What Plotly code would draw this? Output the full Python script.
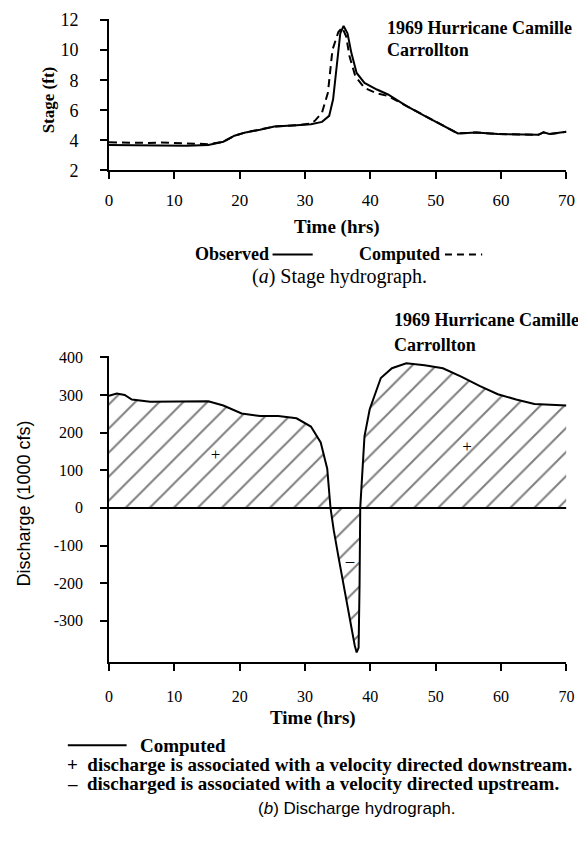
import plotly.graph_objects as go

# (a) stage hydrograph, ft
obs_t = [0, 6.3, 11.9, 15.2, 17.5, 19.2, 20.9, 23.1, 25.3, 28.7, 30.9, 32.6, 33.7, 34.3, 34.9,
         35.4, 35.9, 36.5, 37.1, 37.9, 39.1, 41.0, 42.7, 45.5, 48.3, 51.1, 53.4, 56.2, 59.5,
         65.7, 66.5, 67.4, 70]
obs_stage = [3.69, 3.65, 3.65, 3.69, 3.91, 4.31, 4.53, 4.70, 4.92, 5.01, 5.08, 5.23, 5.63, 6.73,
             9.36, 11.12, 11.6, 11.12, 9.8, 8.48, 7.82, 7.38, 7.05, 6.29, 5.63, 4.97, 4.46, 4.53,
             4.42, 4.37, 4.53, 4.42, 4.57]

comp_t = [0, 2, 4, 6, 8, 10, 12, 15.2, 17.5, 19.2, 20.9, 23.1, 25.3, 28.7, 30.9, 31.5, 32.6,
          33.5, 34.2, 35.1, 35.7, 36.3, 36.8, 37.7, 39.1, 41.0, 42.7, 45.5, 48.3, 51.1, 53.4,
          56.2, 59.5, 65.7, 66.5, 67.4, 70]
comp_stage = [3.87, 3.85, 3.87, 3.83, 3.86, 3.82, 3.80, 3.75, 3.91, 4.31, 4.53, 4.70, 4.92, 5.01,
              5.12, 5.3, 5.85, 7.16, 10.02, 11.2, 11.5, 10.9, 9.6, 8.26, 7.49, 7.12, 6.95, 6.29,
              5.63, 4.97, 4.46, 4.53, 4.42, 4.37, 4.53, 4.42, 4.57]

# (b) discharge hydrograph, 1000 cfs
q_t = [0, 1.2, 2.4, 3.5, 6.3, 11.9, 15.2, 17.5, 20.3, 23.1, 25.9, 28.7, 30.9, 32.4, 33.4,
       33.9, 34.4, 35.2, 36.0, 36.9, 37.6, 37.9, 38.2, 38.35, 38.45, 39.1, 39.9, 41.6, 43.3,
       45.5, 48.3, 51.1, 53.9, 56.7, 59.5, 62.3, 65.1, 70]
q_val = [298, 304, 300, 288, 282, 282, 283, 272, 251, 244, 244, 238, 216, 174, 104,
         0, -60, -138, -215, -300, -365, -384, -372, -200, 0, 190, 262, 345, 371,
         384, 379, 371, 349, 324, 302, 288, 276, 272]

x_ticks = [0, 10, 20, 30, 40, 50, 60, 70]
stage_ticks = [2, 4, 6, 8, 10, 12]
q_ticks = [400, 300, 200, 100, 0, -100, -200, -300]
q_tick_text = ['400', '300', '200', '100', '0', '-100', '-200', '-300']

W, H = 586, 846
PAGE_PAD = 8  # the page body margin shifts the figure by this much
SERIF = 'Liberation Serif'
SANS = 'Liberation Sans'


# positions below are measured on the page, converted to paper fractions here
def px(x):
    return (x - PAGE_PAD) / W


def py(y):
    return 1 - (y - PAGE_PAD) / H


fig = go.Figure()

fig.add_trace(go.Scatter(x=obs_t, y=obs_stage, mode='lines', line=dict(color='black', width=2),
                         xaxis='x', yaxis='y', showlegend=False))
fig.add_trace(go.Scatter(x=comp_t, y=comp_stage, mode='lines',
                         line=dict(color='black', width=2, dash='8px,5px'),
                         xaxis='x', yaxis='y', showlegend=False))

fig.add_trace(go.Scatter(x=q_t, y=q_val, mode='lines', line=dict(color='black', width=2),
                         fill='tozeroy',
                         fillpattern=dict(shape='/', fgcolor='black', bgcolor='white',
                                          size=17, solidity=0.12),
                         xaxis='x2', yaxis='y2', showlegend=False))
# zero line
fig.add_trace(go.Scatter(x=[0, 70], y=[0, 0], mode='lines', line=dict(color='black', width=2),
                         xaxis='x2', yaxis='y2', showlegend=False))

# sign markers
fig.add_trace(go.Scatter(x=[16.3, 54.8], y=[138, 161], mode='text', text=['+', '+'],
                         textfont=dict(family=SERIF, size=17, color='black'),
                         xaxis='x2', yaxis='y2', showlegend=False))
fig.add_trace(go.Scatter(x=[36.9], y=[-143], mode='text', text=['–'],
                         textfont=dict(family=SERIF, size=17, color='black'),
                         xaxis='x2', yaxis='y2', showlegend=False))

axis_common = dict(showgrid=False, zeroline=False, showline=True, linecolor='black',
                   linewidth=1.5, ticks='outside', ticklen=7, tickwidth=1.5, tickcolor='black')

fig.update_layout(
    width=W, height=H,
    margin=dict(l=0, r=0, t=0, b=0),
    paper_bgcolor='white', plot_bgcolor='white',
    xaxis=dict(domain=[px(107), px(574)], range=[0, 70], tickvals=x_ticks,
               anchor='y', ticklabelstandoff=6,
               tickfont=dict(family=SERIF, size=17, color='black'), **axis_common),
    yaxis=dict(domain=[py(165), py(10)], range=[2, 12.07], tickvals=stage_ticks,
               anchor='x', ticklabelstandoff=18,
               tickfont=dict(family=SERIF, size=18, color='black'), **axis_common),
    xaxis2=dict(domain=[px(107), px(574)], range=[0, 70], tickvals=x_ticks,
                anchor='y2', ticklabelstandoff=12,
                tickfont=dict(family=SERIF, size=16, color='black'), **axis_common),
    yaxis2=dict(domain=[py(668), py(355)], range=[-410, 403], tickvals=q_ticks,
                ticktext=q_tick_text, anchor='x2', ticklabelstandoff=14,
                tickfont=dict(family=SERIF, size=16, color='black'), **axis_common),
)


def note(text, x, y, size=19, xanchor='center', angle=0, family=SERIF):
    fig.add_annotation(text=text, x=px(x), y=py(y), xref='paper', yref='paper',
                       xanchor=xanchor, yanchor='middle', showarrow=False, textangle=angle,
                       font=dict(family=family, size=size, color='black'))


def legend_line(x0, x1, y, dash='solid'):
    fig.add_shape(type='line', xref='paper', yref='paper', x0=px(x0), x1=px(x1),
                  y0=py(y), y1=py(y), line=dict(color='black', width=2, dash=dash))


note('<b>1969 Hurricane Camille</b>', 389, 19, size=18, xanchor='left')
note('<b>Carrollton</b>', 389, 42, size=18, xanchor='left')
note('<b>Stage (ft)</b>', 45, 93, size=17, angle=-90)
note('<b>Time (hrs)</b>', 340, 223)
note('<b>Observed</b>', 193, 250, size=18, xanchor='left')
legend_line(274, 315, 251)
note('<b>Computed</b>', 360, 250, size=18, xanchor='left')
legend_line(450, 488, 251, dash='7px,5px')
note('(<i>a</i>) Stage hydrograph.', 342, 273, size=20)

note('<b>1969 Hurricane Camille</b>', 396, 318, size=18, xanchor='left')
note('<b>Carrollton</b>', 396, 344, size=18, xanchor='left')
note('Discharge (1000 cfs)', 20, 506, size=18, angle=-90, family=SANS)
note('<b>Time (hrs)</b>', 315, 725)
legend_line(65, 125, 753)
note('<b>Computed</b>', 137, 753, xanchor='left')
note('<b>+&nbsp; discharge is associated with a velocity directed downstream.</b>', 62, 773,
     xanchor='left')
note('<b>–&nbsp; discharged is associated with a velocity directed upstream.</b>', 62, 792,
     xanchor='left')
note('(<i>b</i>) Discharge hydrograph.', 360, 818, size=17, family=SANS)

fig.write_html("out.html")
